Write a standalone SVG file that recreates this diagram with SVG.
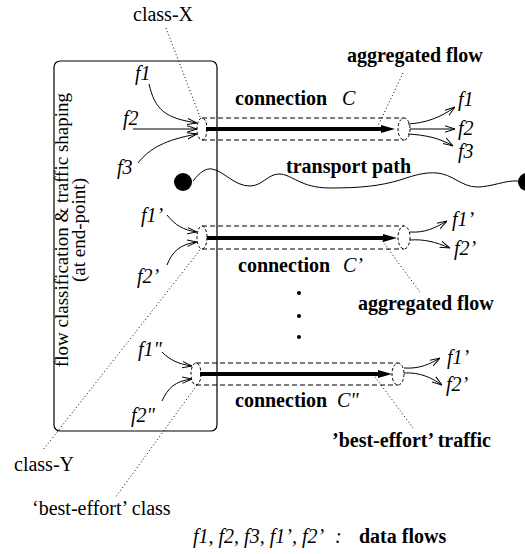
<svg xmlns="http://www.w3.org/2000/svg" width="525" height="554" viewBox="0 0 525 554">
<style>
text{font-family:"Liberation Serif","Times New Roman",serif;font-size:20px;fill:#000}
.b{font-weight:bold}
.i{font-style:italic}
.rot{font-size:19px}
.thin{fill:none;stroke:#000;stroke-width:1;marker-end:url(#stick)}
.dot{fill:none;stroke:#000;stroke-width:1;stroke-dasharray:1 2.5}
.dash{fill:none;stroke:#000;stroke-width:1;stroke-dasharray:5 3}
.cap{fill:none;stroke:#000;stroke-width:1;stroke-dasharray:3 2}
.thick{fill:none;stroke:#000;stroke-width:4;marker-end:url(#head)}
</style>
<defs>
<marker id="stick" markerUnits="userSpaceOnUse" viewBox="0 0 10 8" markerWidth="10" markerHeight="8" refX="10" refY="4" orient="auto">
<path d="M0,0.8 L10,4 L0,7.2" fill="none" stroke="#000" stroke-width="1"/>
</marker>
<marker id="head" markerUnits="userSpaceOnUse" viewBox="0 0 14 8" markerWidth="14" markerHeight="8" refX="1" refY="4" orient="auto">
<path d="M0,0 L14,4 L0,8 z" fill="#000"/>
</marker>
</defs>

<g id="endpoint-box">
<rect x="54" y="61" width="163" height="370" rx="6" fill="none" stroke="#000" stroke-width="1.2"/>
<text class="rot" transform="translate(68,230) rotate(-90)" text-anchor="middle">flow classification &amp; traffic shaping</text>
<text class="rot" transform="translate(85,230) rotate(-90)" text-anchor="middle">(at end-point)</text>
</g>

<g id="transport-path">
<circle cx="183" cy="182" r="9" fill="#000"/>
<circle cx="527" cy="182" r="9" fill="#000"/>
<path d="M193,181 C200,172 206,168 212,169 C224,171 234,186 250,186 C262,186 268,174 279,174 C292,174 300,188 330,188 C360,188 380,186 400,180 C415,175 425,172 437,173 C452,174 462,187 477,187 C492,187 505,180 518,181" fill="none" stroke="#000" stroke-width="1"/>
<text class="b" x="286" y="173">transport path</text>
</g>

<g id="connection-C">
<line class="dash" x1="202" y1="118" x2="404" y2="118"/>
<line class="dash" x1="202" y1="140" x2="404" y2="140"/>
<ellipse class="cap" cx="202" cy="129" rx="5" ry="11"/>
<ellipse class="cap" cx="404" cy="129" rx="6" ry="11"/>
<line class="thick" x1="206" y1="129" x2="382" y2="129"/>
<text class="b" x="235" y="105">connection</text>
<text class="i" x="342" y="105">C</text>
</g>

<g id="connection-C1">
<line class="dash" x1="202" y1="226" x2="404" y2="226"/>
<line class="dash" x1="202" y1="249" x2="404" y2="249"/>
<ellipse class="cap" cx="202" cy="237.5" rx="5" ry="11.5"/>
<ellipse class="cap" cx="404" cy="237.5" rx="6" ry="11.5"/>
<line class="thick" x1="207" y1="238" x2="384" y2="238"/>
<text class="b" x="238" y="272">connection</text>
<text class="i" x="343" y="272">C’</text>
</g>

<g id="ellipsis">
<circle cx="299" cy="293" r="2" fill="#000"/>
<circle cx="299" cy="316" r="2" fill="#000"/>
<circle cx="299" cy="337" r="2" fill="#000"/>
</g>

<g id="connection-C2">
<line class="dash" x1="196" y1="363" x2="398" y2="363"/>
<line class="dash" x1="196" y1="385" x2="398" y2="385"/>
<ellipse class="cap" cx="196" cy="374" rx="5" ry="11"/>
<ellipse class="cap" cx="398" cy="374" rx="6" ry="11"/>
<line class="thick" x1="200" y1="374" x2="379" y2="374"/>
<text class="b" x="235" y="407">connection</text>
<text class="i" x="337" y="407">C"</text>
</g>

<g id="labels">
<text x="133" y="21">class-X</text>
<text class="b" x="347" y="62">aggregated flow</text>
<text class="b" x="358" y="310">aggregated flow</text>
<text class="b" x="332" y="447">’best-effort’ traffic</text>
<text x="14" y="471">class-Y</text>
<text x="32" y="515">‘best-effort’ class</text>
<text class="i" x="193" y="543">f1, f2, f3, f1’, f2’</text>
<text class="i" x="335" y="543">:</text>
<text class="b" x="359" y="543">data flows</text>
</g>

<g id="flow-labels">
<text class="i" x="135" y="80">f1</text>
<text class="i" x="123" y="125">f2</text>
<text class="i" x="117" y="174">f3</text>
<text class="i" x="458" y="106">f1</text>
<text class="i" x="458" y="135">f2</text>
<text class="i" x="458" y="158">f3</text>
<text class="i" x="141" y="222">f1’</text>
<text class="i" x="137" y="283">f2’</text>
<text class="i" x="452" y="226">f1’</text>
<text class="i" x="454" y="255">f2’</text>
<text class="i" x="138" y="356">f1"</text>
<text class="i" x="131" y="422">f2"</text>
<text class="i" x="447" y="364">f1’</text>
<text class="i" x="446" y="391">f2’</text>
</g>

<g id="connectors">
<path class="dot" d="M166,28 L200,117"/>
<path class="dot" d="M403,73 L377,128"/>
<path class="dot" d="M380,238 L420,292"/>
<path class="dot" d="M373,374 L413,428"/>
<path class="dot" d="M200,250 L43,450"/>
<path class="dot" d="M197,385 L115,498"/>
<path class="thin" d="M149,84 C155,110 165,118 197,123"/>
<path class="thin" d="M133,129 L197,129"/>
<path class="thin" d="M138,163 C150,148 165,140 197,134"/>
<path class="thin" d="M167,215 C175,225 183,230 197,232"/>
<path class="thin" d="M167,265 C172,252 180,244 197,242"/>
<path class="thin" d="M162,352 C170,360 178,364 192,366"/>
<path class="thin" d="M162,401 C168,388 175,381 192,379"/>
<path class="thin" d="M408,124 C425,123 440,118 455,107"/>
<path class="thin" d="M410,129 L455,129"/>
<path class="thin" d="M408,134 C425,135 440,138 453,146"/>
<path class="thin" d="M410,232 C425,233 435,228 447,221"/>
<path class="thin" d="M410,240 C425,239 435,242 450,248"/>
<path class="thin" d="M404,368 C420,369 430,364 440,358"/>
<path class="thin" d="M404,373 C420,372 432,378 442,385"/>
</g>
</svg>
